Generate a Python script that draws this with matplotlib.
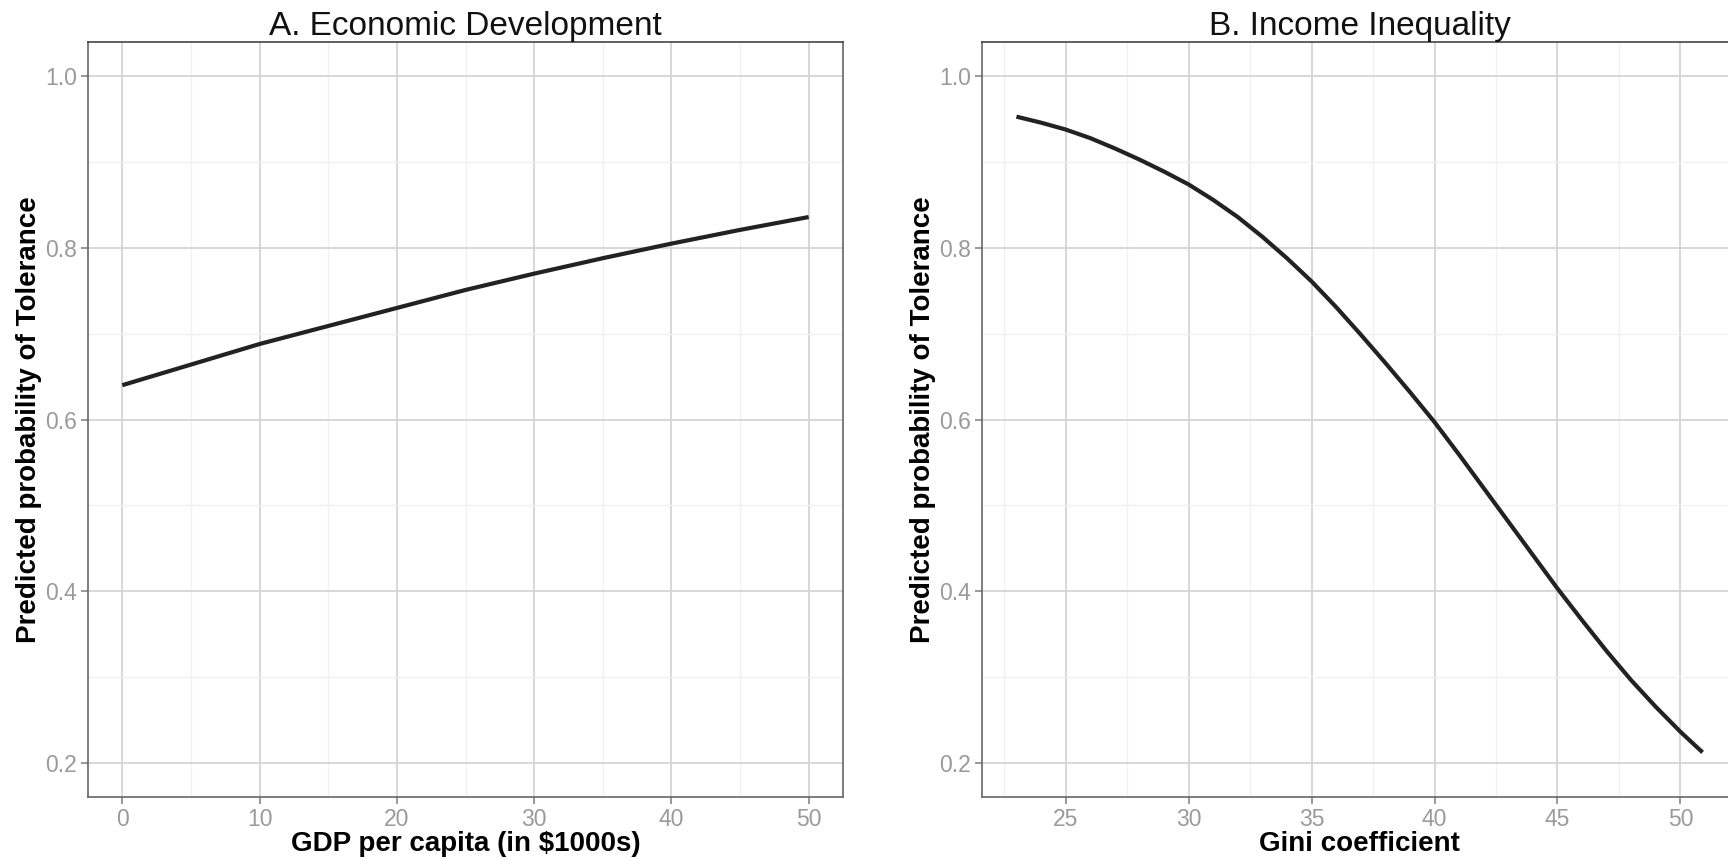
import matplotlib
matplotlib.use("Agg")
import matplotlib.pyplot as plt
from matplotlib.ticker import MultipleLocator

plt.rcParams['font.family'] = ['Liberation Sans', 'DejaVu Sans']

# panel A: GDP per capita (in $1000s) vs predicted probability
gdp = [0, 5, 10, 15, 20, 25, 30, 35, 40, 45, 50]
gdp_prob = [0.640, 0.664, 0.688, 0.709, 0.730, 0.751, 0.770, 0.788, 0.805, 0.821, 0.836]

# panel B: Gini coefficient vs predicted probability
gini = [23, 24, 25, 26, 27, 28, 29, 30, 31, 32, 33, 34, 35, 36, 37, 38, 39,
        40, 41, 42, 43, 44, 45, 46, 47, 48, 49, 50, 50.9]
gini_prob = [0.953, 0.946, 0.938, 0.928, 0.916, 0.903, 0.889, 0.874, 0.856,
             0.836, 0.813, 0.788, 0.761, 0.731, 0.699, 0.666, 0.632, 0.597,
             0.559, 0.520, 0.481, 0.442, 0.403, 0.366, 0.330, 0.296, 0.265,
             0.236, 0.212]

titles = ["A. Economic Development", "B. Income Inequality"]
xlabels = ["GDP per capita (in $1000s)", "Gini coefficient"]
ylabel = "Predicted probability of Tolerance"
yticks = [0.2, 0.4, 0.6, 0.8, 1.0]

W, H = 1728, 860
fig = plt.figure(figsize=(W / 100, H / 100), dpi=100)

ax1 = fig.add_axes([88 / W, 1 - 797 / H, 755 / W, 755 / H])
ax2 = fig.add_axes([982 / W, 1 - 797 / H, 755 / W, 755 / H])


def style_panel(ax, title, xlabel, xmajor):
    ax.set_ylim(0.16, 1.04)
    ax.set_yticks(yticks)
    ax.set_yticklabels(["%.1f" % v for v in yticks])
    ax.yaxis.set_minor_locator(MultipleLocator(0.1))
    ax.xaxis.set_major_locator(MultipleLocator(xmajor))
    ax.xaxis.set_minor_locator(MultipleLocator(xmajor / 2))
    ax.grid(which='major', color='#d4d4d4', linewidth=1.3)
    ax.grid(which='minor', color='#f0f0f0', linewidth=1.0)
    ax.set_axisbelow(True)
    for s in ax.spines.values():
        s.set_color('#666666')
        s.set_linewidth(1.2)
    ax.spines['top'].set_color('#444444')
    ax.tick_params(which='major', length=5, width=1.2, color='#888888',
                   labelcolor='#9a9a9a', labelsize=16.5, pad=3)
    ax.tick_params(which='minor', length=0)
    ax.set_title(title, fontsize=24, color='#111111', pad=5)
    ax.set_xlabel(xlabel, fontsize=20, fontweight='bold', labelpad=0)
    ax.set_ylabel(ylabel, fontsize=20, fontweight='bold', labelpad=2)


ax1.plot(gdp, gdp_prob, color='#222222', linewidth=3, solid_capstyle='butt')
ax1.set_xlim(-2.5, 52.5)
style_panel(ax1, titles[0], xlabels[0], 10)

ax2.plot(gini, gini_prob, color='#222222', linewidth=3, solid_capstyle='butt')
ax2.set_xlim(21.6, 52.3)
style_panel(ax2, titles[1], xlabels[1], 5)

fig.savefig("out.png", dpi=100)
